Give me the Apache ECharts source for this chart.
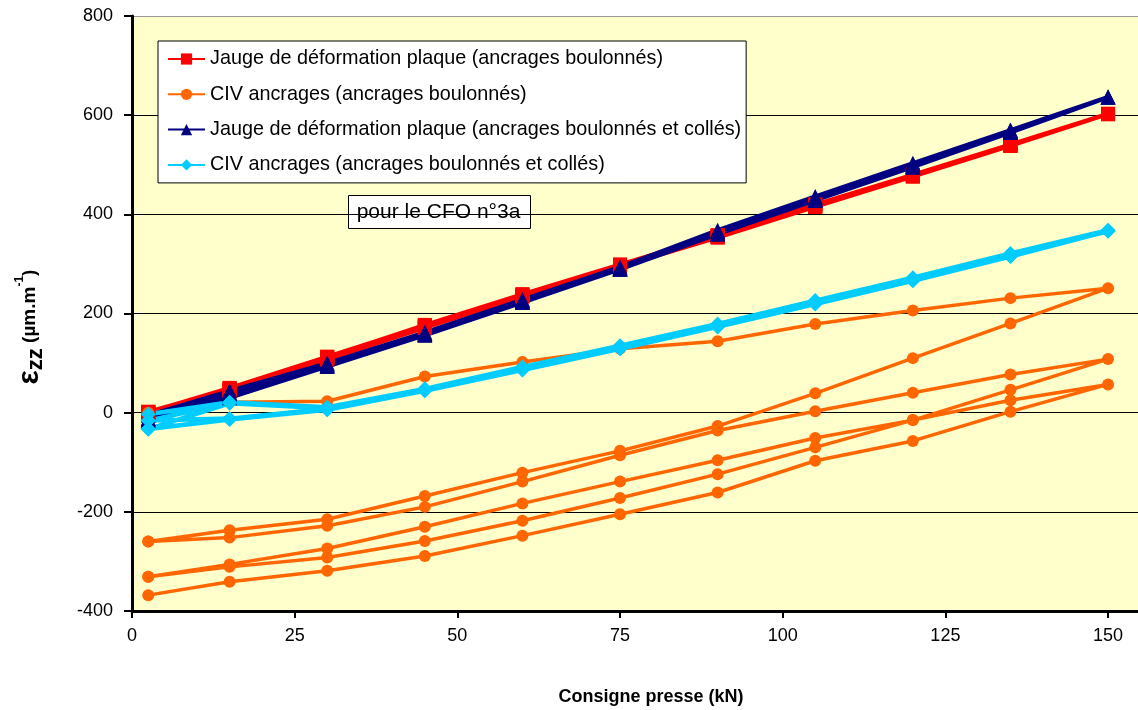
<!DOCTYPE html>
<html>
<head>
<meta charset="utf-8">
<script src="https://cdn.jsdelivr.net/npm/echarts@6/dist/echarts.min.js"></script>
<style>
html,body{margin:0;padding:0;background:#fff;}
#chart{width:1138px;height:710px;}
</style>
</head>
<body>
<div id="chart"></div>
<script>
// ---- Data ----
const X_LOAD = [2.5, 15, 30, 45, 60, 75, 90, 105, 120, 135, 150];
const X_UNLOAD = [135, 120, 105, 90, 75, 60, 45, 30, 15, 2.5];
const X_TICKS = [0, 25, 50, 75, 100, 125, 150];
const Y_TICKS = [-400, -200, 0, 200, 400, 600, 800];

const NAMES = [
  'Jauge de déformation plaque (ancrages boulonnés)',
  'CIV ancrages (ancrages boulonnés)',
  'Jauge de déformation plaque (ancrages boulonnés et collés)',
  'CIV ancrages (ancrages boulonnés et collés)'
];

// Jauge, ancrages boulonnés (load / unload legs)
const JB_LOAD1   = [2, 48, 112, 177, 239, 299, 358, 420, 480, 541, 603];
const JB_UNLOAD1 = [539, 477, 416, 355, 295, 236, 173, 108, 45, 1];
const JB_LOAD2   = [1, 50, 113, 176, 238, 298, 357, 419, 479, 540, 602];
const JB_UNLOAD2 = [538, 477, 415, 354, 294, 235, 172, 107, 44, 0];
const JB_LOAD3   = [0, 49, 112, 175, 237, 297, 356, 418, 478, 539, 602];
const JB_UNLOAD3 = [538, 476, 415, 353, 294, 234, 171, 107, 44, 0];

// CIV, ancrages boulonnés
const CB_LOAD1   = [0, 21, 23, 73, 102, 129, 144, 179, 206, 231, 251];
const CB_UNLOAD1 = [180, 110, 39, -27, -77, -121, -168, -215, -237, -260];
const CB_LOAD2   = [-260, -252, -228, -190, -139, -86, -36, 3, 40, 77, 108];
const CB_UNLOAD2 = [46, -15, -51, -96, -139, -183, -230, -274, -306, -331];
const CB_LOAD3   = [-331, -311, -292, -259, -218, -172, -124, -70, -15, 25, 57];
const CB_UNLOAD3 = [2, -57, -97, -161, -205, -248, -289, -319, -341, -368];

// Jauge, ancrages boulonnés et collés
const JC_LOAD1   = [-5, 44, 100, 162, 228, 294, 368, 436, 503, 570, 637];
const JC_UNLOAD1 = [566, 497, 430, 362, 290, 224, 158, 95, 36, -12];
const JC_LOAD2   = [-12, 40, 98, 160, 226, 292, 366, 434, 501, 569, 636];
const JC_UNLOAD2 = [565, 496, 429, 361, 289, 223, 157, 94, 33, -15];
const JC_LOAD3   = [-15, 38, 97, 159, 225, 291, 365, 433, 500, 568, 636];
const JC_UNLOAD3 = [565, 495, 428, 360, 289, 222, 156, 93, 30, -18];

// CIV, ancrages boulonnés et collés
const CC_LOAD1   = [-3, 21, 11, 48, 92, 135, 179, 226, 272, 321, 368];
const CC_UNLOAD1 = [317, 268, 221, 175, 131, 88, 46, 8, -12, -16];
const CC_LOAD2   = [-16, 20, 10, 47, 90, 134, 177, 224, 270, 319, 367];
const CC_UNLOAD2 = [316, 267, 220, 174, 130, 87, 45, 7, -13, -33];
const CC_LOAD3   = [-33, 19, 9, 46, 89, 133, 176, 223, 269, 318, 366];
const CC_UNLOAD3 = [315, 266, 219, 173, 129, 86, 44, 6, -14, -33];

function buildPath(legs) {
  const out = [];
  legs.forEach((ys, i) => {
    const xs = (i % 2 === 0) ? X_LOAD : X_UNLOAD;
    ys.forEach((y, k) => out.push([xs[k], y]));
  });
  return out;
}

const X_MAX = 154.6;
const FONT = '"Liberation Sans", Arial, sans-serif';

const chart = echarts.init(document.getElementById('chart'), null, {renderer: 'canvas'});

function lineSeries(name, legs, color, symbol, size, width) {
  return {
    name: name,
    type: 'line',
    data: buildPath(legs),
    symbol: symbol,
    symbolSize: size,
    showAllSymbol: true,
    lineStyle: {color: color, width: width},
    itemStyle: {color: color, borderWidth: 0},
    emphasis: {disabled: true},
    z: 2
  };
}

const option = {
  animation: false,
  backgroundColor: '#ffffff',
  grid: {left: 132, right: 0, top: 16, bottom: 99, show: true, backgroundColor: '#FFFFCC', borderWidth: 0},
  xAxis: {
    type: 'value', min: 0, max: X_MAX, interval: 25,
    axisLine: {show: true, onZero: false, lineStyle: {color: '#000', width: 3}},
    axisTick: {show: true, length: 7, lineStyle: {color: '#000', width: 2}, customValues: X_TICKS},
    axisLabel: {
      fontSize: 18, color: '#000', fontFamily: FONT, margin: 16,
      customValues: X_TICKS,
      formatter: v => X_TICKS.indexOf(v) >= 0 ? String(v) : ''
    },
    splitLine: {show: false}
  },
  yAxis: {
    type: 'value', min: Y_TICKS[0], max: Y_TICKS[Y_TICKS.length - 1], interval: 200,
    axisLine: {show: true, onZero: false, lineStyle: {color: '#000', width: 3}},
    axisTick: {show: true, length: 8, lineStyle: {color: '#000', width: 2}},
    axisLabel: {fontSize: 18, color: '#000', fontFamily: FONT, margin: 19},
    splitLine: {show: true, lineStyle: {color: ['#000', '#000', '#000', '#000', '#000', '#000', '#999'], width: 1}}
  },
  legend: {
    orient: 'vertical', left: 158, top: 41,
    padding: [8, 5, 8, 9], itemGap: 15.3,
    itemWidth: 37, itemHeight: 14,
    backgroundColor: '#ffffff', borderColor: '#000', borderWidth: 1,
    textStyle: {fontSize: 19.8, color: '#000', fontFamily: FONT},
    data: NAMES,
    selectedMode: false,
    z: 10
  },
  graphic: [
    {
      type: 'group', left: 348, top: 195, z: 10,
      children: [
        {type: 'rect', shape: {x: 0, y: 0, width: 182, height: 33}, style: {fill: '#fff', stroke: '#000', lineWidth: 1}},
        {type: 'text', x: 90, y: 17, style: {text: 'pour le CFO n°3a', fontSize: 21, fontFamily: FONT, fill: '#000', align: 'center', verticalAlign: 'middle'}}
      ]
    },
    {
      type: 'text', x: 651, y: 697, z: 10,
      style: {text: 'Consigne presse (kN)', fontSize: 18, fontWeight: 'bold', fontFamily: FONT, fill: '#000', align: 'center', verticalAlign: 'middle'}
    },
    {
      type: 'text', x: 30, y: 327, rotation: Math.PI / 2, z: 10,
      style: {
        text: '{e|ε}{s|zz}{u| (µm.m}{p|-1}{u|)}',
        align: 'center', verticalAlign: 'middle', fill: '#000',
        rich: {
          e: {fontSize: 30, fontWeight: 'bold', fontFamily: FONT, fill: '#000', verticalAlign: 'middle'},
          s: {fontSize: 22, fontWeight: 'bold', fontFamily: FONT, fill: '#000', verticalAlign: 'bottom', padding: [11, 0, 0, 0]},
          u: {fontSize: 19, fontWeight: 'bold', fontFamily: FONT, fill: '#000', verticalAlign: 'middle'},
          p: {fontSize: 12, fontWeight: 'bold', fontFamily: FONT, fill: '#000', verticalAlign: 'top'}
        }
      }
    }
  ],
  series: [
    lineSeries(NAMES[0], [JB_LOAD1, JB_UNLOAD1, JB_LOAD2, JB_UNLOAD2, JB_LOAD3, JB_UNLOAD3], '#FF0000', 'rect', 14, 4),
    lineSeries(NAMES[1], [CB_LOAD1, CB_UNLOAD1, CB_LOAD2, CB_UNLOAD2, CB_LOAD3, CB_UNLOAD3], '#FF6600', 'circle', 12, 3.5),
    lineSeries(NAMES[2], [JC_LOAD1, JC_UNLOAD1, JC_LOAD2, JC_UNLOAD2, JC_LOAD3, JC_UNLOAD3], '#000080', 'triangle', 15, 4),
    lineSeries(NAMES[3], [CC_LOAD1, CC_UNLOAD1, CC_LOAD2, CC_UNLOAD2, CC_LOAD3, CC_UNLOAD3], '#00CCFF', 'diamond', 15, 4.5)
  ]
};
chart.setOption(option);
</script>
</body>
</html>
